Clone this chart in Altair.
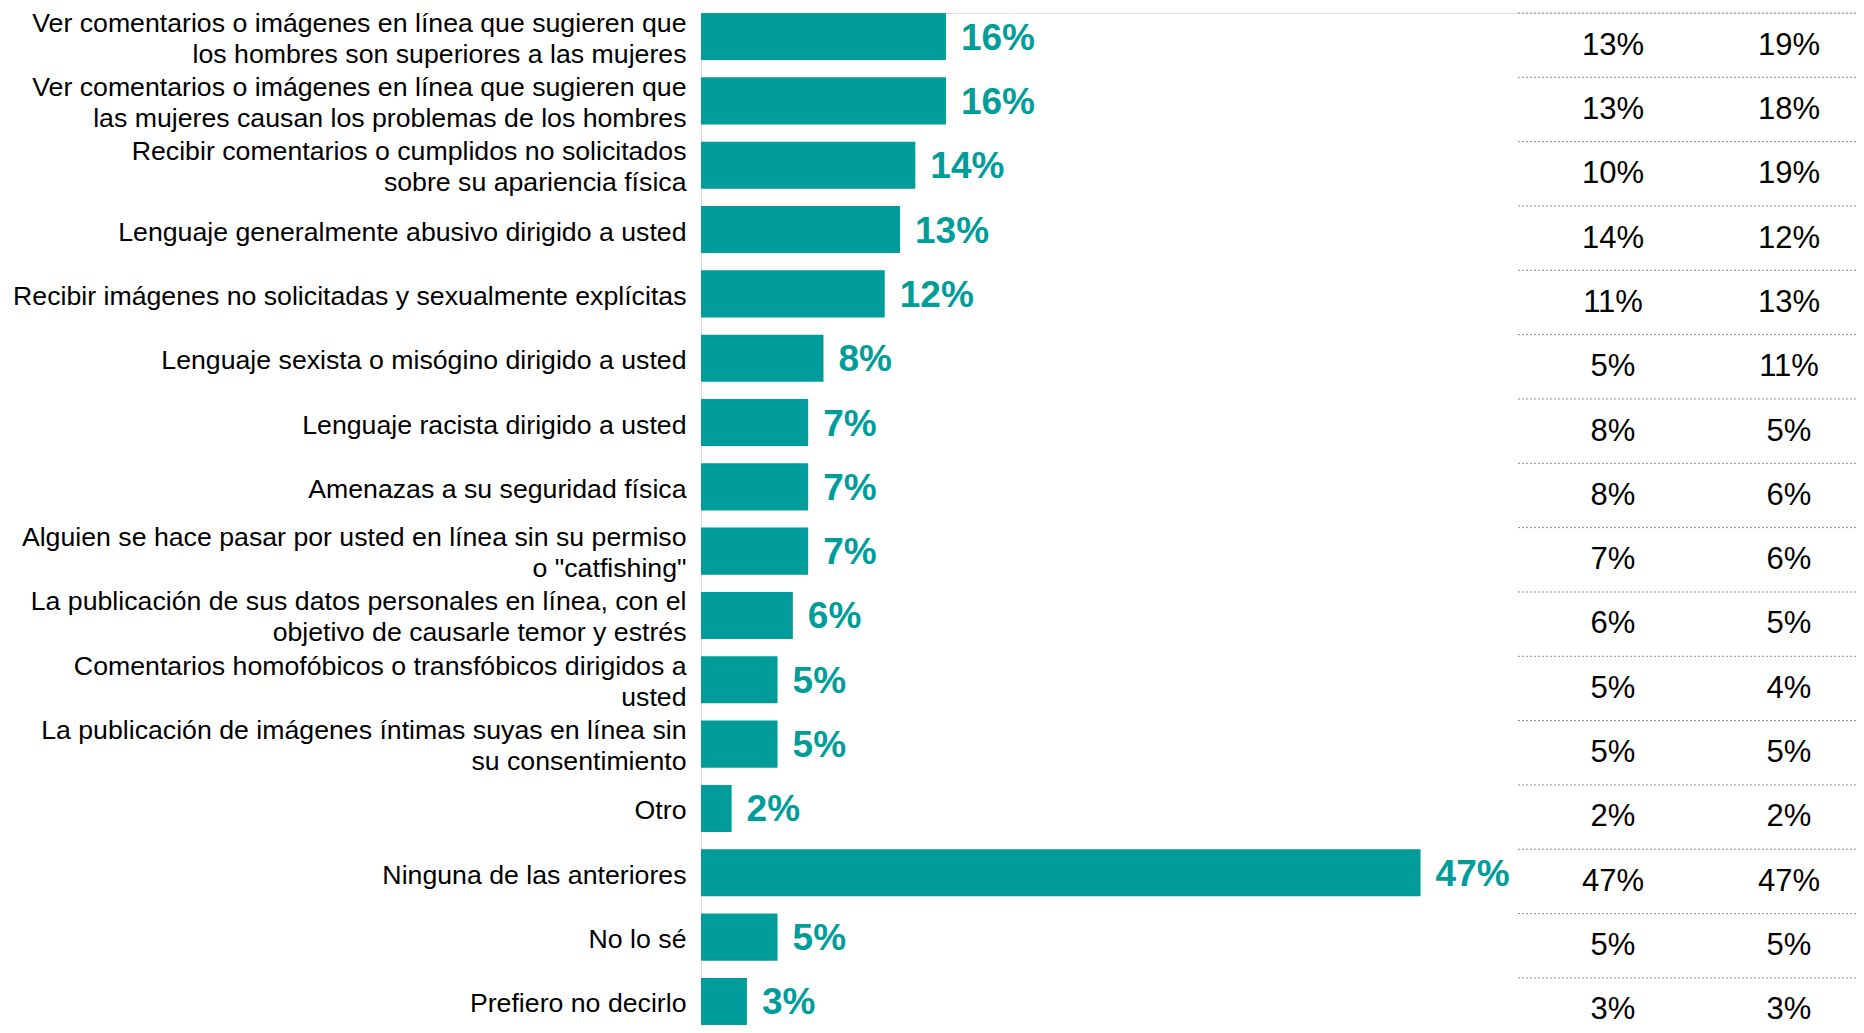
import altair as alt
import pandas as pd

categories = [
    "Ver comentarios o imágenes en línea que sugieren que|los hombres son superiores a las mujeres",
    "Ver comentarios o imágenes en línea que sugieren que|las mujeres causan los problemas de los hombres",
    "Recibir comentarios o cumplidos no solicitados|sobre su apariencia física",
    "Lenguaje generalmente abusivo dirigido a usted",
    "Recibir imágenes no solicitadas y sexualmente explícitas",
    "Lenguaje sexista o misógino dirigido a usted",
    "Lenguaje racista dirigido a usted",
    "Amenazas a su seguridad física",
    "Alguien se hace pasar por usted en línea sin su permiso|o \"catfishing\"",
    "La publicación de sus datos personales en línea, con el|objetivo de causarle temor y estrés",
    "Comentarios homofóbicos o transfóbicos dirigidos a|usted",
    "La publicación de imágenes íntimas suyas en línea sin|su consentimiento",
    "Otro",
    "Ninguna de las anteriores",
    "No lo sé",
    "Prefiero no decirlo",
]
total = [16, 16, 14, 13, 12, 8, 7, 7, 7, 6, 5, 5, 2, 47, 5, 3]
col_a = [13, 13, 10, 14, 11, 5, 8, 8, 7, 6, 5, 5, 2, 47, 5, 3]
col_b = [19, 18, 19, 12, 13, 11, 5, 6, 6, 5, 4, 5, 2, 47, 5, 3]

df = pd.DataFrame({"cat": categories, "total": total, "a": col_a, "b": col_b})
df["total_lbl"] = df["total"].astype(str) + "%"
df["a_lbl"] = df["a"].astype(str) + "%"
df["b_lbl"] = df["b"].astype(str) + "%"

TEAL = "#009D9A"
FONT = "Liberation Sans"
W = 1155
H = 1012
TOP = 5

yscale = alt.Scale(domain=categories, paddingInner=0.268, paddingOuter=0.0)
xscale = alt.Scale(domain=[0, W / 15.31], nice=False, zero=True)

y_enc = alt.Y(
    "cat:N",
    scale=yscale,
    sort=categories,
    axis=alt.Axis(
        title=None,
        ticks=False,
        domain=False,
        grid=False,
        labelAlign="right",
        labelBaseline="middle",
        labelPadding=15,
        labelLimit=0,
        labelFont=FONT,
        labelFontSize=26.7,
        labelColor="#000000",
        labelLineHeight=31,
        labelExpr="split(datum.label, '|')",
        labelOffset={
            "condition": {"test": "indexof(datum.value, '|') >= 0", "value": -13},
            "value": 3,
        },
    ),
)

base = alt.Chart(df)

bars = base.mark_bar(color=TEAL).encode(
    x=alt.X("total:Q", scale=xscale, axis=None),
    y=y_enc,
)

bar_labels = base.mark_text(
    align="left", baseline="middle", dx=15, dy=2,
    font=FONT, fontSize=37, fontWeight="bold", color=TEAL,
).encode(
    x=alt.X("total:Q", scale=xscale),
    y=alt.Y("cat:N", scale=yscale, sort=categories),
    text="total_lbl:N",
)

rules = base.mark_rule(color="#8c8c8c", strokeDash=[2, 2], strokeWidth=1).encode(
    x=alt.value(817),
    x2=alt.value(W),
    y=alt.Y("cat:N", scale=yscale, sort=categories, bandPosition=0),
)

col_a_text = base.mark_text(
    align="center", baseline="middle", dy=9,
    font=FONT, fontSize=31, color="#000000",
).encode(
    x=alt.value(912),
    y=alt.Y("cat:N", scale=yscale, sort=categories),
    text="a_lbl:N",
)

col_b_text = base.mark_text(
    align="center", baseline="middle", dy=9,
    font=FONT, fontSize=31, color="#000000",
).encode(
    x=alt.value(1088),
    y=alt.Y("cat:N", scale=yscale, sort=categories),
    text="b_lbl:N",
)

chart = (
    alt.layer(bars, bar_labels, rules, col_a_text, col_b_text)
    .properties(
        width=W,
        height=H,
        padding={"left": 693, "top": TOP, "right": 0, "bottom": 0},
        autosize=alt.AutoSizeParams(type="none"),
    )
    .configure_view(stroke=None)
    .configure(background="white")
)

chart.save("out.html", embed_options={"renderer": "svg", "actions": False})
